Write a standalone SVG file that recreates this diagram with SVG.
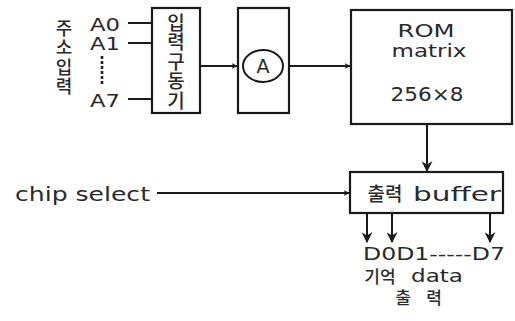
<svg xmlns="http://www.w3.org/2000/svg" width="515" height="321" viewBox="0 0 515 321">
<style>
.box{fill:#fff;stroke:#1a1a1a;stroke-width:2.2}
.ln{fill:none;stroke:#1a1a1a;stroke-width:2}
.t{font-family:"DejaVu Sans","Noto Sans CJK KR",sans-serif;fill:#2a2a2a}
.k{font-family:"Noto Sans CJK KR",sans-serif;fill:#2a2a2a;text-anchor:middle;font-weight:500}
.v{font-family:"Noto Sans CJK KR",sans-serif;fill:#2a2a2a;font-weight:500;writing-mode:vertical-rl;text-orientation:upright}
</style>
<defs>
<marker id="ah" viewBox="0 0 10 10" refX="9" refY="5" markerWidth="6" markerHeight="6" orient="auto" markerUnits="userSpaceOnUse">
<path d="M0,0 L10,5 L0,10 L3,5 z" fill="#1a1a1a"/>
</marker>
<marker id="ahb" viewBox="0 0 10 10" refX="9" refY="5" markerWidth="11" markerHeight="11" orient="auto" markerUnits="userSpaceOnUse">
<path d="M0,0 L10,5 L0,10 L3,5 z" fill="#1a1a1a"/>
</marker>
</defs>
<rect width="515" height="321" fill="#fff"/>

<g id="addr-label">
<text class="v" font-size="18" x="64" y="19" letter-spacing="1.5">주소입력</text>
</g>

<g id="addr-inputs">
<text class="t" font-size="17" x="90" y="31" textLength="30" lengthAdjust="spacingAndGlyphs">A0</text>
<text class="t" font-size="17" x="90" y="50" textLength="30" lengthAdjust="spacingAndGlyphs">A1</text>
<text class="t" font-size="17" x="90" y="107" textLength="30" lengthAdjust="spacingAndGlyphs">A7</text>
<line x1="102" y1="56" x2="102" y2="85" stroke="#222" stroke-width="2.6" stroke-dasharray="3 2"/>
</g>

<g id="input-driver">
<rect class="box" x="152" y="8" width="48" height="105"/>
<text class="v" font-size="19" x="176" y="13" letter-spacing="0.5">입력구동기</text>
</g>

<g id="decoder">
<rect class="box" x="238" y="8" width="51" height="105"/>
<ellipse cx="263" cy="66" rx="20" ry="16" fill="none" stroke="#1a1a1a" stroke-width="2"/>
<text class="t" font-size="19" x="263" y="73" text-anchor="middle">A</text>
</g>

<g id="rom">
<rect class="box" x="351" y="10" width="161" height="114"/>
<text class="t" font-size="18" x="426" y="37" text-anchor="middle" textLength="57" lengthAdjust="spacingAndGlyphs">ROM</text>
<text class="t" font-size="18" x="429" y="57" text-anchor="middle" textLength="75" lengthAdjust="spacingAndGlyphs">matrix</text>
<text class="t" font-size="20" x="427" y="101" text-anchor="middle" textLength="73" lengthAdjust="spacingAndGlyphs">256×8</text>
</g>

<g id="chip-select">
<text class="t" font-size="20" x="15" y="201" textLength="135" lengthAdjust="spacingAndGlyphs">chip select</text>
</g>

<g id="buffer">
<rect class="box" x="350" y="172" width="153" height="41"/>
<text class="k" font-size="19" x="385" y="201">출력</text>
<text class="t" font-size="20" x="457" y="201" text-anchor="middle" textLength="88" lengthAdjust="spacingAndGlyphs">buffer</text>
</g>

<g id="outputs">
<text class="t" font-size="17" x="363" y="260" textLength="142" lengthAdjust="spacingAndGlyphs">D0D1-----D7</text>
<text class="k" font-size="17" x="380" y="283">기억</text>
<text class="t" font-size="17" x="411" y="282" textLength="52" lengthAdjust="spacingAndGlyphs">data</text>
<text class="k" font-size="17" x="403" y="304">출</text>
<text class="k" font-size="17" x="434" y="304">력</text>
</g>

<g id="connectors">
<line class="ln" x1="128" y1="23" x2="152" y2="23"/>
<line class="ln" x1="128" y1="43" x2="152" y2="43"/>
<line class="ln" x1="128" y1="99" x2="152" y2="99"/>
<line class="ln" x1="200" y1="66" x2="237" y2="66" marker-end="url(#ah)"/>
<line class="ln" x1="289" y1="66" x2="350" y2="66" marker-end="url(#ah)"/>
<line class="ln" x1="427" y1="124" x2="427" y2="171" marker-end="url(#ahb)"/>
<line class="ln" x1="157" y1="193" x2="349" y2="193" marker-end="url(#ah)"/>
<line class="ln" x1="367" y1="213" x2="367" y2="242" marker-end="url(#ahb)"/>
<line class="ln" x1="392" y1="213" x2="392" y2="242" marker-end="url(#ahb)"/>
<line class="ln" x1="490" y1="213" x2="490" y2="242" marker-end="url(#ahb)"/>
</g>
</svg>
